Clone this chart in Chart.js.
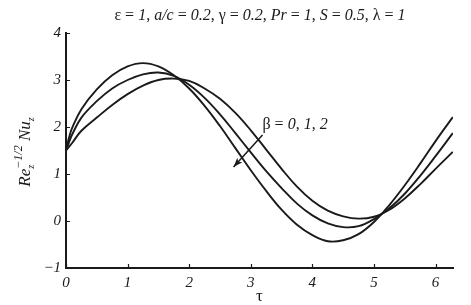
<!DOCTYPE html>
<html>
<head>
<meta charset="utf-8">
<script src="https://cdn.jsdelivr.net/npm/chart.js"></script>
<style>
    body { margin: 0; background: #fff; }
</style>
</head>
<body>
<canvas id="grafico" width="471" height="305"></canvas>
<script>
// valores
const tau = [0, 0.05, 0.1, 0.25, 0.5, 0.75, 1, 1.25, 1.5, 1.75, 2, 2.25, 2.5, 2.75,
    3, 3.25, 3.5, 3.75, 4, 4.25, 4.5, 4.75, 5, 5.25, 5.5, 5.75, 6, 6.28];
const beta0 = [1.5, 1.78, 1.98, 2.38, 2.80, 3.10, 3.29, 3.36, 3.29, 3.10, 2.82, 2.45, 2.02, 1.55,
    1.08, 0.64, 0.24, -0.08, -0.30, -0.43, -0.41, -0.28, -0.02, 0.34, 0.76, 1.22, 1.70, 2.21];
const beta1 = [1.5, 1.68, 1.84, 2.2, 2.55, 2.82, 3.0, 3.12, 3.16, 3.09, 2.90, 2.62, 2.27, 1.87,
    1.46, 1.06, 0.70, 0.37, 0.12, -0.05, -0.13, -0.11, 0.04, 0.27, 0.58, 0.96, 1.38, 1.87];
const beta2 = [1.5, 1.58, 1.66, 1.92, 2.2, 2.47, 2.70, 2.88, 3.0, 3.03, 2.98, 2.82, 2.60, 2.30,
    1.93, 1.52, 1.11, 0.73, 0.43, 0.22, 0.10, 0.05, 0.09, 0.24, 0.48, 0.78, 1.11, 1.47];
const xTicks = [0, 1, 2, 3, 4, 5, 6];
const yTicks = [-1, 0, 1, 2, 3, 4];

const serif = '"Liberation Serif", "Times New Roman", serif';
const cor = '#1a1a1a';

function pontos(ys) {
    return tau.map((t, i) => ({ x: t, y: ys[i] }));
}

// desenha texto com partes em itálico / índices
function textoRico(ctx, partes, x, y) {
    let total = 0;
    partes.forEach(p => {
        ctx.font = (p.i ? 'italic ' : '') + p.s + 'px ' + serif;
        p.w = ctx.measureText(p.t).width;
        if (!p.stack) total += p.w;
    });
    let cx = x - total / 2;
    ctx.textBaseline = 'alphabetic';
    ctx.textAlign = 'left';
    partes.forEach(p => {
        ctx.font = (p.i ? 'italic ' : '') + p.s + 'px ' + serif;
        ctx.fillText(p.t, cx, y + (p.dy || 0));
        if (!p.stack) cx += p.w;
    });
    return total;
}

const n = (t, s) => ({ t: t, s: s || 16 });
const it = (t, s) => ({ t: t, s: s || 16, i: true });

const decor = {
    id: 'decor',
    afterDraw(chart) {
        const { ctx, chartArea: a, scales: { x, y } } = chart;
        ctx.save();
        ctx.strokeStyle = cor;
        ctx.fillStyle = cor;
        ctx.lineWidth = 1.2;

        // ticks para dentro
        ctx.beginPath();
        xTicks.forEach(v => {
            const px = Math.round(x.getPixelForValue(v)) + 0.5;
            ctx.moveTo(px, a.bottom);
            ctx.lineTo(px, a.bottom - 4);
        });
        yTicks.forEach(v => {
            const py = Math.round(y.getPixelForValue(v)) + 0.5;
            ctx.moveTo(a.left, py);
            ctx.lineTo(a.left + 4, py);
        });
        ctx.stroke();

        // título
        textoRico(ctx, [
            n('ε = '), it('1'), n(', '), it('a/c'), n(' = '), it('0.2'), n(', γ = '), it('0.2'),
            n(', '), it('Pr'), n(' = '), it('1'), n(', '), it('S'), n(' = '), it('0.5'),
            n(', λ = '), it('1')
        ], 260, 20);

        // eixo x
        textoRico(ctx, [n('τ', 17)], x.getPixelForValue(3.14), 301);

        // eixo y
        ctx.save();
        ctx.translate(30, 152);
        ctx.rotate(-Math.PI / 2);
        textoRico(ctx, [
            it('Re', 17),
            { t: 'z', s: 10, i: true, dy: 4, stack: true },
            { t: '−1/2', s: 12, i: true, dy: -8 },
            it(' Nu', 17),
            { t: 'z', s: 10, i: true, dy: 4 }
        ], 0, 0);
        ctx.restore();

        // anotação com seta
        const x0 = x.getPixelForValue(3.19), y0 = y.getPixelForValue(1.83);
        const x1 = x.getPixelForValue(2.72), y1 = y.getPixelForValue(1.15);
        ctx.lineWidth = 1.5;
        ctx.beginPath();
        ctx.moveTo(x0, y0);
        ctx.lineTo(x1, y1);
        ctx.stroke();
        const ang = Math.atan2(y1 - y0, x1 - x0);
        ctx.beginPath();
        ctx.moveTo(x1, y1);
        ctx.lineTo(x1 - 10 * Math.cos(ang - 0.35), y1 - 10 * Math.sin(ang - 0.35));
        ctx.lineTo(x1 - 7 * Math.cos(ang), y1 - 7 * Math.sin(ang));
        ctx.lineTo(x1 - 10 * Math.cos(ang + 0.35), y1 - 10 * Math.sin(ang + 0.35));
        ctx.closePath();
        ctx.fill();

        const lx = x.getPixelForValue(3.19), ly = y.getPixelForValue(1.96);
        const partes = [n('β = '), it('0'), n(', '), it('1'), n(', '), it('2')];
        let w = 0;
        partes.forEach(p => { ctx.font = (p.i ? 'italic ' : '') + p.s + 'px ' + serif; w += ctx.measureText(p.t).width; });
        textoRico(ctx, partes, lx + w / 2, ly);

        ctx.restore();
    }
};

const serie = (ys) => ({
    data: pontos(ys),
    showLine: true,
    borderColor: cor,
    borderWidth: 1.9,
    pointRadius: 0,
    tension: 0.4,
    fill: false
});

const ctx = document.getElementById('grafico').getContext('2d');
new Chart(ctx, {
    type: 'scatter',
    data: { datasets: [serie(beta0), serie(beta1), serie(beta2)] },
    options: {
        responsive: false,
        animation: false,
        layout: { padding: { top: 33, right: 18, left: 0, bottom: 0 } },
        plugins: { legend: { display: false }, tooltip: { enabled: false } },
        scales: {
            x: {
                type: 'linear',
                min: 0,
                max: 2 * Math.PI,
                grid: { display: false, drawTicks: false },
                border: { display: true, color: cor, width: 2 },
                afterBuildTicks: s => { s.ticks = xTicks.map(v => ({ value: v })); },
                afterFit: s => { s.height = 37; },
                ticks: {
                    padding: 6,
                    color: cor,
                    font: { family: serif, size: 15, style: 'italic' }
                }
            },
            y: {
                type: 'linear',
                min: -1,
                max: 4,
                grid: { display: false, drawTicks: false },
                border: { display: true, color: cor, width: 2 },
                afterBuildTicks: s => { s.ticks = yTicks.map(v => ({ value: v })); },
                afterFit: s => { s.width = 66; },
                ticks: {
                    padding: 5,
                    color: cor,
                    font: { family: serif, size: 15, style: 'italic' },
                    callback: v => v < 0 ? '−' + Math.abs(v) : String(v)
                }
            }
        }
    },
    plugins: [decor]
});
</script>
</body>
</html>
